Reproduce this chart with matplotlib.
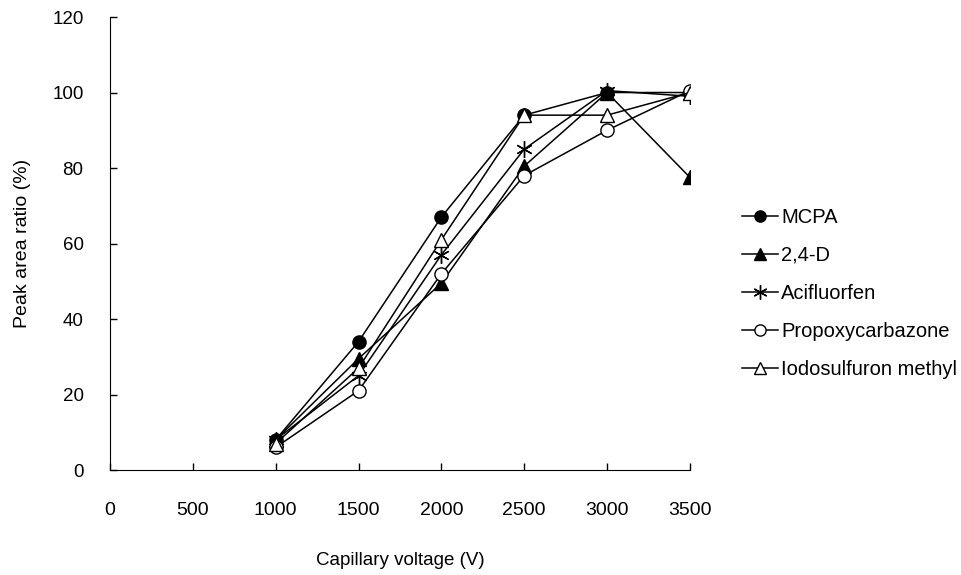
import matplotlib
matplotlib.use("Agg")
import matplotlib.pyplot as plt

voltage = [1000, 1500, 2000, 2500, 3000, 3500]
mcpa = [8, 34, 67, 94, 100, 100]
d24 = [8, 29.5, 49.5, 80.5, 100, 77.5]
acifluorfen = [8, 25, 57, 85, 100.5, 99]
propoxycarbazone = [6, 21, 52, 78, 90, 100.5]
iodosulfuron = [7, 27, 61, 94, 94, 100]

plt.rcParams['font.family'] = ['Liberation Sans', 'DejaVu Sans']

fig = plt.figure(figsize=(9.62, 5.75), dpi=100)
ax = fig.add_axes([0.1143, 0.1826, 0.6029, 0.7878])

style = dict(color='black', lw=1.1, markersize=9.5, markeredgewidth=1.0)
ax.plot(voltage, mcpa, marker='o', mfc='black', mec='black', label='MCPA', **style)
ax.plot(voltage, d24, marker='^', mfc='black', mec='black', label='2,4-D', **style)
ax.plot(voltage, acifluorfen, marker=(6, 2, 0), mec='black', label='Acifluorfen',
        color='black', lw=1.1, markersize=12, markeredgewidth=1.0)
ax.plot(voltage, propoxycarbazone, marker='o', mfc='white', mec='black', label='Propoxycarbazone', **style)
ax.plot(voltage, iodosulfuron, marker='^', mfc='white', mec='black', label='Iodosulfuron methyl', **style)

ax.set_xlim(0, 3500)
ax.set_ylim(0, 120)
ax.set_xticks(range(0, 3501, 500))
ax.set_yticks(range(0, 121, 20))
ax.spines['top'].set_visible(False)
ax.spines['right'].set_visible(False)
ax.tick_params(direction='in', length=5, width=1)
ax.tick_params(axis='x', pad=23, labelsize=14)
ax.tick_params(axis='y', pad=19, labelsize=13.5)
ax.set_xlabel('Capillary voltage (V)', fontsize=13.5, labelpad=24)
ax.set_ylabel('Peak area ratio (%)', fontsize=14, labelpad=15)

ax.legend(loc='center left', bbox_to_anchor=(1.09, 0.39), frameon=False,
          fontsize=14.5, handlelength=1.8, handletextpad=0.15, labelspacing=0.95,
          borderaxespad=0, borderpad=0, markerscale=0.85)

fig.savefig('out.png', dpi=100)
